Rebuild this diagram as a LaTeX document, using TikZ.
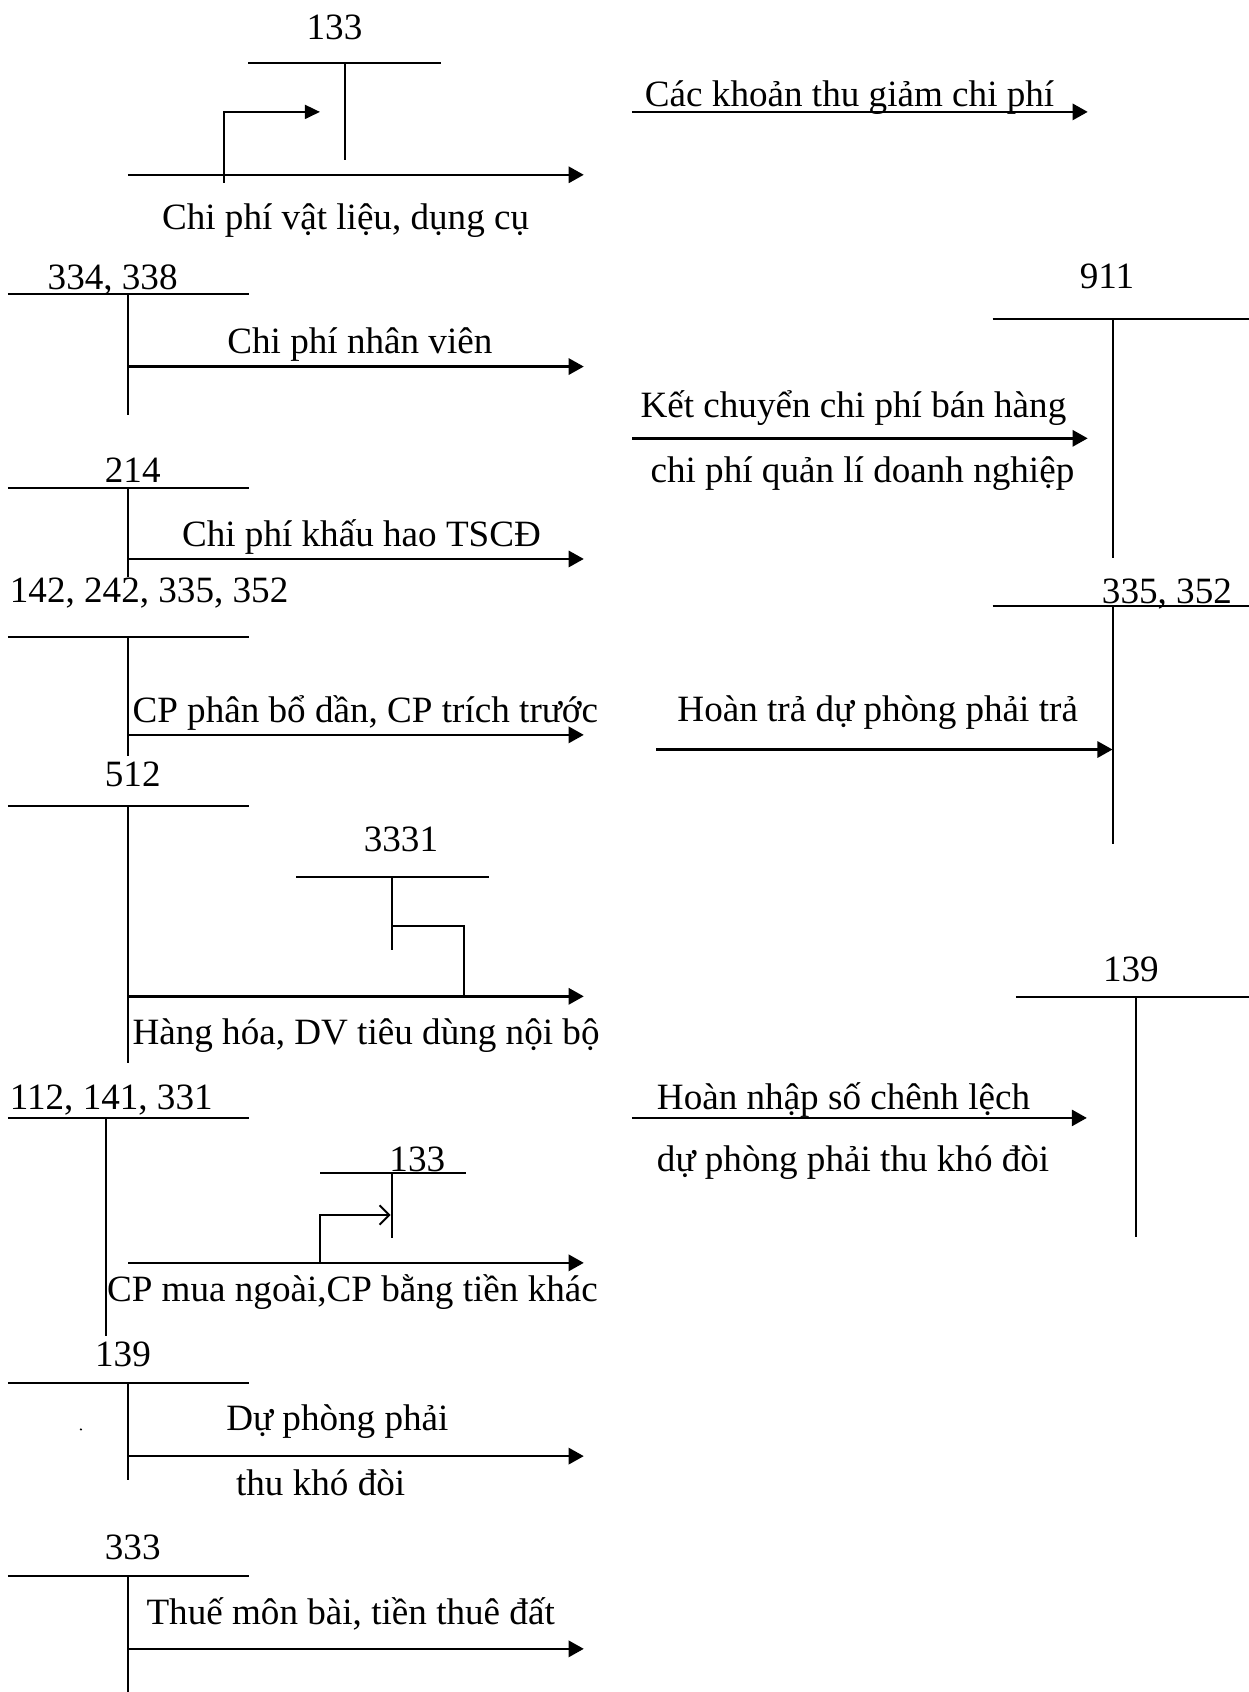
\documentclass[tikz,border=0pt]{standalone}
\usepackage{fontspec}
\setmainfont{Liberation Serif}
\usetikzlibrary{arrows.meta}
\begin{document}
\begin{tikzpicture}[x=1pt,y=-1pt,
  tline/.style={line width=1.8pt},
  farrow/.style={line width=2.3pt,-{Triangle[length=14pt,width=15pt]}},
  oarrow/.style={line width=1.8pt,-{Straight Barb[length=9pt,width=18pt]}},
  lbl/.style={anchor=base west,inner sep=0pt,font=\fontsize{34.4}{40}\selectfont}]
\fill[white] (0,0) rectangle (1157,1568);
\useasboundingbox (0,0) rectangle (1157,1568);

% ---- 133 (top)
\node[lbl,anchor=base] (t133) at (310,37) {133};
\coordinate (a1l) at (230,58.4); \coordinate (a1r) at (409,58.4);
\coordinate (a1t) at (319.6,58.4); \coordinate (a1b) at (319.6,148);
\draw[tline] (a1l) -- (a1r); \draw[tline] (a1t) -- (a1b);
\coordinate (s1a) at (208,169.5); \coordinate (s1b) at (296.5,103.7);
\draw[line width=1.8pt,-{Triangle[length=14pt,width=13pt]}] (s1a) |- (s1b);
\coordinate (m1a) at (118.6,162); \coordinate (m1b) at (541,162);
\draw[farrow] (m1a) -- (m1b);
\node[lbl] (l1) at (150,213) {Chi phí vật liệu, dụng cụ};

% ---- Các khoản thu giảm chi phí
\node[lbl] (l2) at (597.5,99) {Các khoản thu giảm chi phí};
\coordinate (m2a) at (585.5,103.7); \coordinate (m2b) at (1008,103.7);
\draw[farrow] (m2a) -- (m2b);

% ---- 334, 338
\node[lbl] (t334) at (44,268) {334, 338};
\coordinate (a3l) at (7.3,272.6); \coordinate (a3r) at (230.6,272.6);
\coordinate (a3t) at (119,272.6); \coordinate (a3b) at (119,384.5);
\draw[tline] (a3l) -- (a3r); \draw[tline] (a3t) -- (a3b);
\coordinate (m3a) at (119,339.7); \coordinate (m3b) at (541,339.7);
\draw[farrow] (m3a) -- (m3b);
\node[lbl] (l3) at (210.5,328) {Chi phí nhân viên};

% ---- 214
\node[lbl] (t214) at (97,447) {214};
\coordinate (a4l) at (7.3,451.8); \coordinate (a4r) at (230.6,451.8);
\coordinate (a4t) at (119,451.8); \coordinate (a4b) at (119,535);
\draw[tline] (a4l) -- (a4r); \draw[tline] (a4t) -- (a4b);
\coordinate (m4a) at (119,518); \coordinate (m4b) at (541,518);
\draw[farrow] (m4a) -- (m4b);
\node[lbl] (l4) at (168.5,506.7) {Chi phí khấu hao TSCĐ};

% ---- 142, 242, 335, 352
\node[lbl] (t142) at (9,558.7) {142, 242, 335, 352};
\coordinate (a5l) at (7.3,590.7); \coordinate (a5r) at (230.6,590.7);
\coordinate (a5t) at (119,590.7); \coordinate (a5b) at (119,701);
\draw[tline] (a5l) -- (a5r); \draw[tline] (a5t) -- (a5b);
\coordinate (m5a) at (119,681); \coordinate (m5b) at (541,681);
\draw[farrow] (m5a) -- (m5b);
\node[lbl] (l5) at (122.6,670) {CP phân bổ dần, CP trích trước};

% ---- 512 / 3331
\node[lbl] (t512) at (97,729.3) {512};
\coordinate (a6l) at (7.3,746.6); \coordinate (a6r) at (230.6,746.6);
\coordinate (a6t) at (119,746.6); \coordinate (a6b) at (119,985);
\draw[tline] (a6l) -- (a6r); \draw[tline] (a6t) -- (a6b);
\node[lbl] (t3331) at (337,789) {3331};
\coordinate (b6l) at (274.6,813); \coordinate (b6r) at (453,813);
\coordinate (b6t) at (363.6,813); \coordinate (b6b) at (363.6,880);
\draw[tline] (b6l) -- (b6r); \draw[tline] (b6t) -- (b6b);
\coordinate (k6a) at (363.6,858.4); \coordinate (k6b) at (430,923.3);
\draw[tline] (k6a) -| (k6b);
\coordinate (m6a) at (119,923.3); \coordinate (m6b) at (541,923.3);
\draw[farrow] (m6a) -- (m6b);
\node[lbl] (l6) at (122.6,968) {Hàng hóa, DV tiêu dùng nội bộ};

% ---- 112, 141, 331 / 133
\node[lbl] (t112) at (9,1028) {112, 141, 331};
\coordinate (a7l) at (7.3,1036); \coordinate (a7r) at (230.6,1036);
\coordinate (a7t) at (98,1036); \coordinate (a7b) at (98,1238);
\draw[tline] (a7l) -- (a7r); \draw[tline] (a7t) -- (a7b);
\node[lbl] (t133b) at (360.7,1086) {133};
\coordinate (b7l) at (296.6,1087); \coordinate (b7r) at (431.4,1087);
\coordinate (b7t) at (363.6,1087); \coordinate (b7b) at (363.6,1147);
\draw[tline] (b7l) -- (b7r); \draw[tline] (b7t) -- (b7b);
\coordinate (k7a) at (296.6,1170.3); \coordinate (k7b) at (362,1126);
\draw[oarrow] (k7a) |- (k7b);
\coordinate (m7a) at (119,1170.3); \coordinate (m7b) at (541,1170.3);
\draw[farrow] (m7a) -- (m7b);
\node[lbl] (l7) at (99,1205.8) {CP mua ngoài,CP bằng tiền khác};

% ---- 139 (left)
\node[lbl] (t139a) at (88,1266) {139};
\coordinate (a8l) at (7.3,1282); \coordinate (a8r) at (230.6,1282);
\coordinate (a8t) at (119,1282); \coordinate (a8b) at (119,1371.7);
\draw[tline] (a8l) -- (a8r); \draw[tline] (a8t) -- (a8b);
\fill (75,1324.7) circle (1.1);
\coordinate (m8a) at (119,1349.4); \coordinate (m8b) at (541,1349.4);
\draw[farrow] (m8a) -- (m8b);
\node[lbl] (l8a) at (209.5,1326) {Dự phòng phải};
\node[lbl] (l8b) at (218.6,1385.8) {thu khó đòi};

% ---- 333
\node[lbl] (t333) at (97,1445) {333};
\coordinate (a9l) at (7.3,1460.5); \coordinate (a9r) at (230.6,1460.5);
\coordinate (a9t) at (119,1460.5); \coordinate (a9b) at (119,1568);
\draw[tline] (a9l) -- (a9r); \draw[tline] (a9t) -- (a9b);
\coordinate (m9a) at (119,1528); \coordinate (m9b) at (541,1528);
\draw[farrow] (m9a) -- (m9b);
\node[lbl] (l9) at (135.6,1505) {Thuế môn bài, tiền thuê đất};

% ---- 911
\node[lbl] (t911) at (1000.5,267.7) {911};
\coordinate (r1l) at (919.8,296); \coordinate (r1r) at (1157,296);
\coordinate (r1t) at (1031,296); \coordinate (r1b) at (1031,516.8);
\draw[tline] (r1l) -- (r1r); \draw[tline] (r1t) -- (r1b);
\coordinate (q1a) at (586,406.2); \coordinate (q1b) at (1008,406.2);
\draw[farrow] (q1a) -- (q1b);
\node[lbl] (lr1a) at (593.4,386.8) {Kết chuyển chi phí bán hàng};
\node[lbl] (lr1b) at (602.7,447.2) {chi phí quản lí doanh nghiệp};

% ---- 335, 352 (right)
\node[lbl] (t335) at (1021,559.2) {335, 352};
\coordinate (r2l) at (919.8,562); \coordinate (r2r) at (1157,562);
\coordinate (r2t) at (1031,562); \coordinate (r2b) at (1031,782);
\draw[tline] (r2l) -- (r2r); \draw[tline] (r2t) -- (r2b);
\coordinate (q2a) at (608.3,694.6); \coordinate (q2b) at (1031,694.6);
\draw[farrow] (q2a) -- (q2b);
\node[lbl] (lr2) at (627.6,668.8) {Hoàn trả dự phòng phải trả};

% ---- 139 (right)
\node[lbl] (t139b) at (1022,909.4) {139};
\coordinate (r3l) at (941.5,924.2); \coordinate (r3r) at (1157,924.2);
\coordinate (r3t) at (1053,924.2); \coordinate (r3b) at (1053,1146.5);
\draw[tline] (r3l) -- (r3r); \draw[tline] (r3t) -- (r3b);
\coordinate (q3a) at (585.5,1036); \coordinate (q3b) at (1007.2,1036);
\draw[farrow] (q3a) -- (q3b);
\node[lbl] (lr3a) at (608.6,1028.3) {Hoàn nhập số chênh lệch};
\node[lbl] (lr3b) at (608.6,1085.4) {dự phòng phải thu khó đòi};
\end{tikzpicture}
\end{document}
